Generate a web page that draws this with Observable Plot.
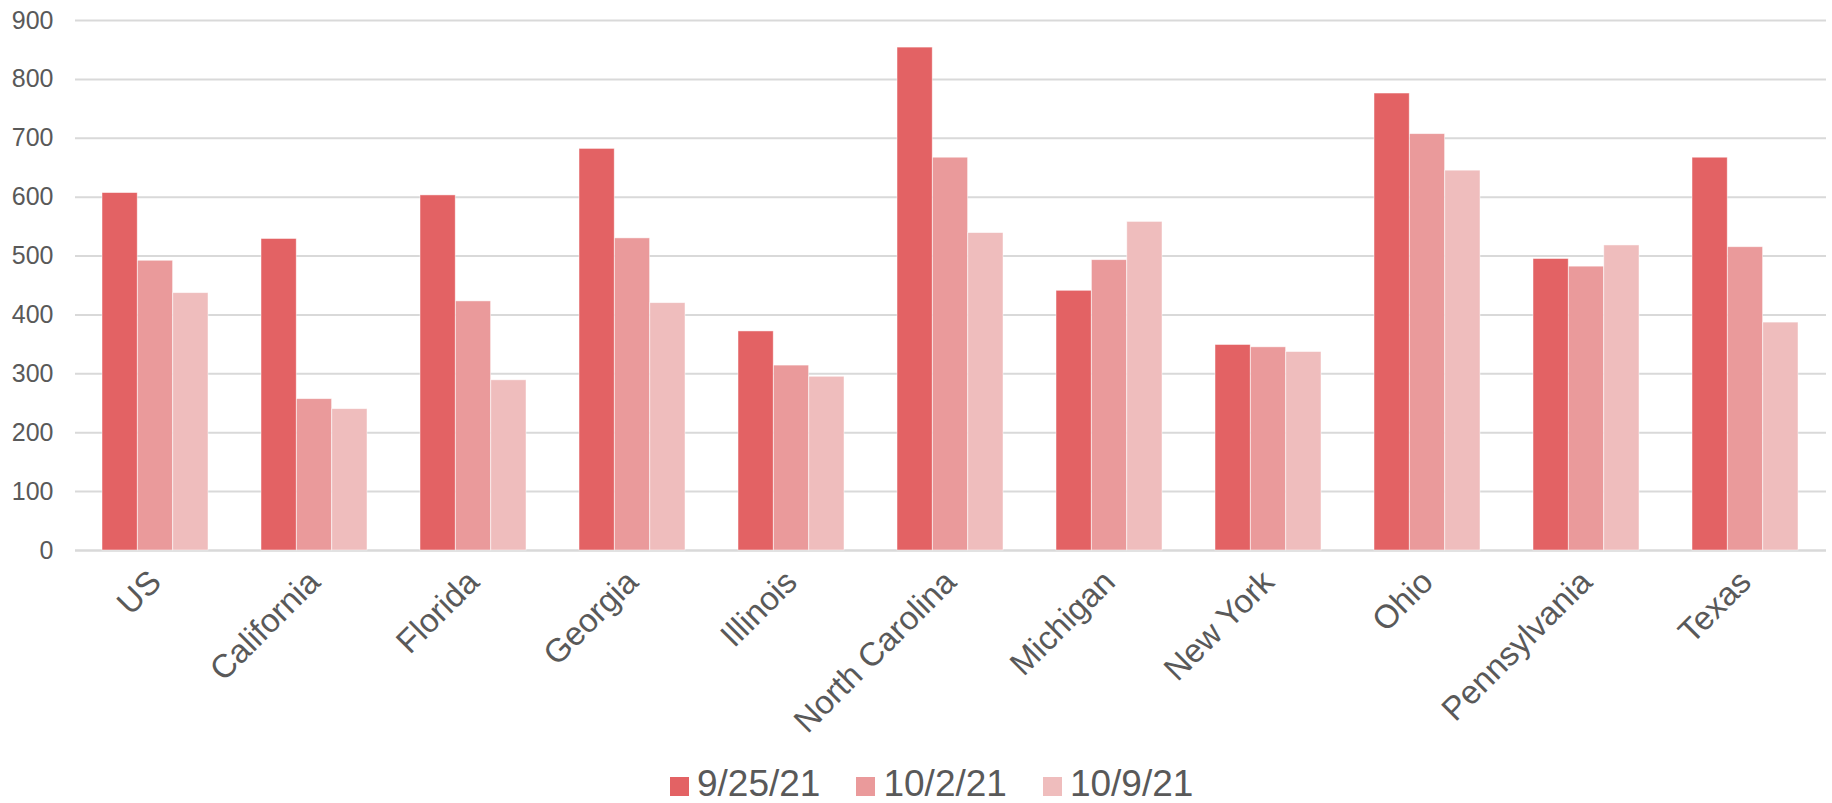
<!DOCTYPE html>
<html>
<head>
<meta charset="utf-8">
<script src="https://cdn.jsdelivr.net/npm/d3@7"></script>
<script src="https://cdn.jsdelivr.net/npm/@observablehq/plot@0.6"></script>
<style>
  html, body { margin: 0; padding: 0; background: #fff; }
  body { width: 1832px; height: 803px; position: relative; overflow: hidden; font-family: "Liberation Sans", Arial, sans-serif; }
  #legend { position: absolute; left: 670px; top: 764px; display: flex; align-items: center; color: #595959; font-size: 37px; line-height: 40px; }
  #legend .item { display: flex; align-items: center; margin-right: 36px; }
  #legend .sw { width: 19px; height: 19px; margin-right: 8px; margin-top: 4px; }
</style>
</head>
<body>
<div id="chart"></div>
<div id="legend"></div>
<script>
const states = ["US", "California", "Florida", "Georgia", "Illinois", "North Carolina", "Michigan", "New York", "Ohio", "Pennsylvania", "Texas"];
const seriesNames = ["9/25/21", "10/2/21", "10/9/21"];
const values_9_25 = [607, 529, 603, 682, 372, 854, 441, 349, 776, 495, 667];
const values_10_2 = [492, 257, 423, 530, 314, 667, 493, 345, 707, 482, 515];
const values_10_9 = [437, 240, 289, 420, 295, 539, 558, 337, 645, 518, 387];
const yTicks = [0, 100, 200, 300, 400, 500, 600, 700, 800, 900];
const colors = ["#E36264", "#EA9A9B", "#EFBDBD"];

const seriesValues = [values_9_25, values_10_2, values_10_9];
const data = [];
states.forEach((s, i) => {
  seriesNames.forEach((n, k) => data.push({state: s, series: n, value: seriesValues[k][i]}));
});

const W = 1832, H = 750, ML = 75, MR = 6, MT = 20, MB = 200;
const xOpts = {type: "band", domain: states, paddingInner: 0.333, paddingOuter: 0.167};
const xs = Plot.scale({x: {...xOpts, range: [ML, W - MR]}});
const third = xs.bandwidth / seriesNames.length;

const barMarks = seriesNames.map((n, k) =>
  Plot.barY(data.filter(d => d.series === n), {
    x: "state", y: "value", fill: "series",
    insetLeft: k * third, insetRight: (seriesNames.length - 1 - k) * third,
    stroke: "#fff", strokeOpacity: 0.6, strokeWidth: 0.8
  })
);

const chart = Plot.plot({
  width: W,
  height: H,
  marginTop: MT,
  marginLeft: ML,
  marginRight: MR,
  marginBottom: MB,
  style: {fontFamily: "'Liberation Sans', Arial, sans-serif", color: "#595959", background: "white"},
  x: {...xOpts, label: null},
  y: {domain: [0, 900], label: null},
  color: {domain: seriesNames, range: colors},
  marks: [
    Plot.ruleY(yTicks.filter(d => d > 0), {stroke: "#D9D9D9", strokeWidth: 2}),
    Plot.ruleY([0], {stroke: "#D9D9D9", strokeWidth: 2.5}),
    ...barMarks,
    Plot.axisY({ticks: yTicks, tickSize: 0, tickPadding: 22, fontSize: 25, label: null, anchor: "left"}),
    Plot.axisX({tickRotate: -45, tickSize: 0, tickPadding: 26, fontSize: 33, label: null, anchor: "bottom"})
  ]
});
document.getElementById("chart").appendChild(chart);

const legend = document.getElementById("legend");
seriesNames.forEach((n, k) => {
  const item = document.createElement("div");
  item.className = "item";
  const sw = document.createElement("span");
  sw.className = "sw";
  sw.style.background = colors[k];
  const t = document.createElement("span");
  t.textContent = n;
  item.appendChild(sw);
  item.appendChild(t);
  legend.appendChild(item);
});
</script>
</body>
</html>
